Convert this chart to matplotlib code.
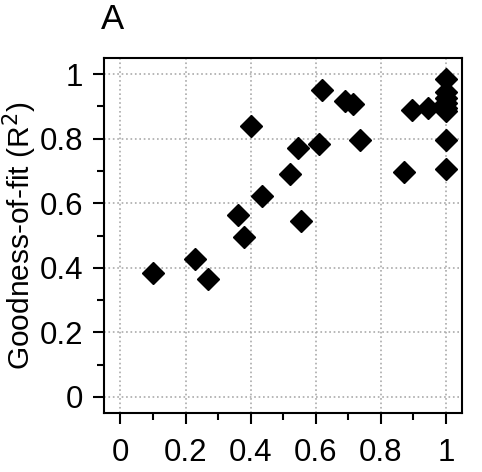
import matplotlib
matplotlib.use("Agg")
import matplotlib.pyplot as plt
from matplotlib.ticker import MultipleLocator

plt.rcParams['font.family'] = ['Liberation Sans', 'DejaVu Sans']

# goodness-of-fit points
x_vals = [0.10, 0.23, 0.27, 0.36, 0.38, 0.40, 0.435, 0.52, 0.545, 0.555,
          0.61, 0.62, 0.69, 0.715, 0.735, 0.87, 0.895, 0.945,
          1.0, 1.0, 1.0, 1.0, 1.0, 1.0, 1.0, 1.0]
y_vals = [0.385, 0.426, 0.364, 0.563, 0.494, 0.840, 0.624, 0.691, 0.772, 0.544,
          0.784, 0.951, 0.916, 0.907, 0.797, 0.698, 0.889, 0.894,
          0.985, 0.945, 0.925, 0.91, 0.895, 0.885, 0.797, 0.705]
ticks = [0, 0.2, 0.4, 0.6, 0.8, 1]
tick_labels = ['0', '0.2', '0.4', '0.6', '0.8', '1']

fig = plt.figure(figsize=(4.82, 4.72), dpi=100)
ax = fig.add_axes([0.216, 0.125, 0.743, 0.752])

ax.plot(x_vals, y_vals, linestyle='none', marker='D', ms=11,
        color='black', zorder=3, clip_on=False)

ax.set_xlim(-0.05, 1.05)
ax.set_ylim(-0.05, 1.05)
ax.set_xticks(ticks)
ax.set_xticklabels(tick_labels)
ax.set_yticks(ticks)
ax.set_yticklabels(tick_labels)
ax.xaxis.set_minor_locator(MultipleLocator(0.1))
ax.yaxis.set_minor_locator(MultipleLocator(0.1))
ax.tick_params(which='major', length=8, width=1.5, labelsize=22.5)
ax.tick_params(axis='x', which='major', pad=10)
ax.tick_params(axis='y', which='major', pad=7)
ax.tick_params(which='minor', length=5, width=1.5)
for s in ax.spines.values():
    s.set_linewidth(1.5)

ax.grid(True, which='major', linestyle=':', color='#aaaaaa', linewidth=1.2)
ax.set_axisbelow(True)

fig.text(0.002, 0.5, 'Goodness-of-fit (R$^2$)', fontsize=21.5,
         rotation=90, ha='left', va='center')
fig.text(0.21, 0.958, 'A', fontsize=25, va='center', ha='left')

fig.savefig('out.png', dpi=100)
